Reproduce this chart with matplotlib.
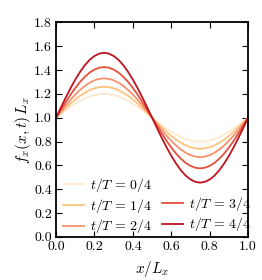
import matplotlib
matplotlib.use('Agg')
import matplotlib.pyplot as plt
from matplotlib.lines import Line2D
from matplotlib.ticker import FormatStrFormatter

plt.rcParams['font.family'] = 'serif'
plt.rcParams['font.serif'] = ['cmr10', 'DejaVu Serif']
plt.rcParams['mathtext.fontset'] = 'cm'
plt.rcParams['axes.unicode_minus'] = False

# x/L_x sample positions
x = [0.000, 0.025, 0.050, 0.075, 0.100, 0.125, 0.150, 0.175, 0.200, 0.225,
     0.250, 0.275, 0.300, 0.325, 0.350, 0.375, 0.400, 0.425, 0.450, 0.475,
     0.500, 0.525, 0.550, 0.575, 0.600, 0.625, 0.650, 0.675, 0.700, 0.725,
     0.750, 0.775, 0.800, 0.825, 0.850, 0.875, 0.900, 0.925, 0.950, 0.975,
     1.000]

# f_x(x,t) L_x, one list per time
f_0 = [1.000, 1.031, 1.062, 1.091, 1.118, 1.141, 1.162, 1.178, 1.190, 1.198,
       1.200, 1.198, 1.190, 1.178, 1.162, 1.141, 1.118, 1.091, 1.062, 1.031,
       1.000, 0.969, 0.938, 0.909, 0.882, 0.859, 0.838, 0.822, 0.810, 0.802,
       0.800, 0.802, 0.810, 0.822, 0.838, 0.859, 0.882, 0.909, 0.938, 0.969,
       1.000]
f_1 = [1.000, 1.041, 1.080, 1.118, 1.153, 1.184, 1.210, 1.232, 1.247, 1.257,
       1.260, 1.257, 1.247, 1.232, 1.210, 1.184, 1.153, 1.118, 1.080, 1.041,
       1.000, 0.959, 0.920, 0.882, 0.847, 0.816, 0.790, 0.768, 0.753, 0.743,
       0.740, 0.743, 0.753, 0.768, 0.790, 0.816, 0.847, 0.882, 0.920, 0.959,
       1.000]
f_2 = [1.000, 1.052, 1.102, 1.150, 1.194, 1.233, 1.267, 1.294, 1.314, 1.326,
       1.330, 1.326, 1.314, 1.294, 1.267, 1.233, 1.194, 1.150, 1.102, 1.052,
       1.000, 0.948, 0.898, 0.850, 0.806, 0.767, 0.733, 0.706, 0.686, 0.674,
       0.670, 0.674, 0.686, 0.706, 0.733, 0.767, 0.806, 0.850, 0.898, 0.948,
       1.000]
f_3 = [1.000, 1.066, 1.131, 1.193, 1.250, 1.301, 1.344, 1.379, 1.404, 1.420,
       1.425, 1.420, 1.404, 1.379, 1.344, 1.301, 1.250, 1.193, 1.131, 1.066,
       1.000, 0.934, 0.869, 0.807, 0.750, 0.699, 0.656, 0.621, 0.596, 0.580,
       0.575, 0.580, 0.596, 0.621, 0.656, 0.699, 0.750, 0.807, 0.869, 0.934,
       1.000]
f_4 = [1.000, 1.085, 1.168, 1.247, 1.320, 1.385, 1.441, 1.486, 1.518, 1.538,
       1.545, 1.538, 1.518, 1.486, 1.441, 1.385, 1.320, 1.247, 1.168, 1.085,
       1.000, 0.915, 0.832, 0.753, 0.680, 0.615, 0.559, 0.514, 0.482, 0.462,
       0.455, 0.462, 0.482, 0.514, 0.559, 0.615, 0.680, 0.753, 0.832, 0.915,
       1.000]

curves = [f_0, f_1, f_2, f_3, f_4]
labels = ['$t/T\\,=\\,0/4$', '$t/T\\,=\\,1/4$', '$t/T\\,=\\,2/4$',
          '$t/T\\,=\\,3/4$', '$t/T\\,=\\,4/4$']
colors = ['#fde9cf', '#fdc27c', '#f4926c', '#e5503b', '#bd1420']

fig = plt.figure(figsize=(2.62, 2.80), dpi=100)
ax = fig.add_axes([0.214, 0.154, 0.733, 0.766])

lines = []
for y, lab, c in zip(curves, labels, colors):
    l, = ax.plot(x, y, color=c, lw=1.3, label=lab)
    lines.append(l)

ax.set_xlim(0, 1)
ax.set_ylim(0, 1.8)
ax.set_xticks([0.0, 0.2, 0.4, 0.6, 0.8, 1.0])
ax.set_yticks([0.0, 0.2, 0.4, 0.6, 0.8, 1.0, 1.2, 1.4, 1.6, 1.8])
ax.xaxis.set_major_formatter(FormatStrFormatter('%.1f'))
ax.yaxis.set_major_formatter(FormatStrFormatter('%.1f'))
ax.tick_params(direction='in', top=True, right=True, length=4, width=0.8,
               labelsize=10, pad=3)
for s in ax.spines.values():
    s.set_linewidth(1.3)

ax.set_xlabel('$x/L_x$', fontsize=11, labelpad=4)
ax.set_ylabel('$f_x(x,t)\\,L_x$', fontsize=11, labelpad=1)

# blank entry so the second column sits at the bottom
blank = Line2D([], [], color='none')
handles = lines[:3] + [blank] + lines[3:]
labs = labels[:3] + [' '] + labels[3:]
ax.legend(handles, labs, loc='lower left', ncol=2, frameon=False, fontsize=10,
          handlelength=1.55, handletextpad=0.4, columnspacing=0.7,
          labelspacing=0.2, borderaxespad=0.0, borderpad=0.1,
          bbox_to_anchor=(0.027, 0.0))

fig.savefig('out.png', dpi=100)
